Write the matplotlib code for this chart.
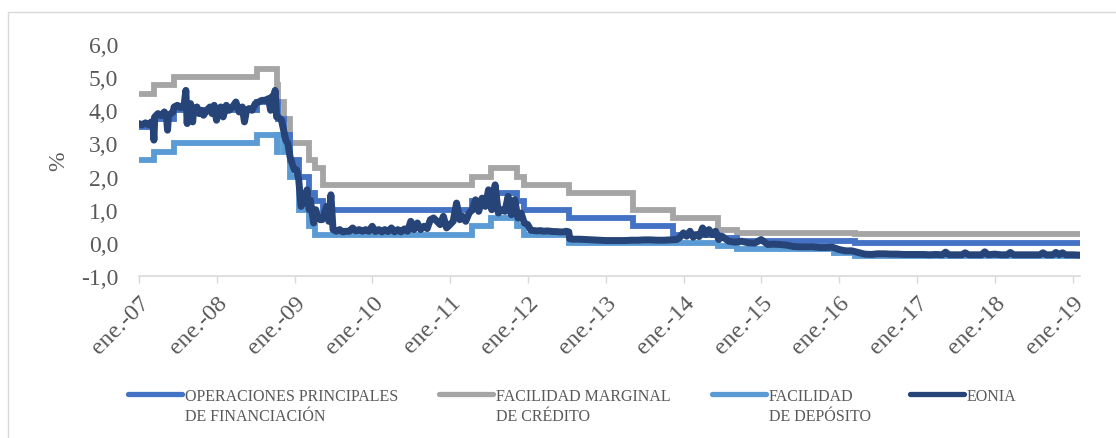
import matplotlib
matplotlib.use("Agg")
import matplotlib.pyplot as plt
from matplotlib.lines import Line2D
from matplotlib.patches import Rectangle
import pandas as pd

# ---------------- DATA ----------------
# Official ECB rates (step changes): effective date -> rate
mro_dates = ["2007-01-01", "2007-03-14", "2007-06-13", "2008-07-09", "2008-10-15", "2008-11-12",
             "2008-12-10", "2009-01-21", "2009-03-11", "2009-04-08", "2009-05-13", "2011-04-13",
             "2011-07-13", "2011-11-09", "2011-12-14", "2012-07-11", "2013-05-08", "2013-11-13",
             "2014-06-11", "2014-09-10", "2016-03-16", "2019-02-05"]
mro_values = [3.50, 3.75, 4.00, 4.25, 3.75, 3.25, 2.50, 2.00, 1.50, 1.25, 1.00, 1.25,
              1.50, 1.25, 1.00, 0.75, 0.50, 0.25, 0.15, 0.05, 0.00, 0.00]

mlf_dates = ["2007-01-01", "2007-03-14", "2007-06-13", "2008-07-09", "2008-10-09", "2008-10-15",
             "2008-11-12", "2008-12-10", "2009-03-11", "2009-04-08", "2009-05-13", "2011-04-13",
             "2011-07-13", "2011-11-09", "2011-12-14", "2012-07-11", "2013-05-08", "2013-11-13",
             "2014-06-11", "2014-09-10", "2016-03-16", "2019-02-05"]
mlf_values = [4.50, 4.75, 5.00, 5.25, 4.75, 4.25, 3.75, 3.00, 2.50, 2.25, 1.75, 2.00,
              2.25, 2.00, 1.75, 1.50, 1.00, 0.75, 0.40, 0.30, 0.28, 0.28]

df_dates = ["2007-01-01", "2007-03-14", "2007-06-13", "2008-07-09", "2008-10-09", "2008-10-15",
            "2008-11-12", "2008-12-10", "2009-01-21", "2009-03-11", "2009-04-08", "2011-04-13",
            "2011-07-13", "2011-11-09", "2011-12-14", "2012-07-11", "2014-06-11", "2014-09-10",
            "2015-12-09", "2016-03-16", "2019-02-05"]
df_values = [2.50, 2.75, 3.00, 3.25, 2.75, 3.25, 2.75, 2.00, 1.00, 0.50, 0.25, 0.50,
             0.75, 0.50, 0.25, 0.00, -0.10, -0.20, -0.30, -0.40, -0.40]

# EONIA
eonia_dates = [
    "2007-01-01", "2007-01-15", "2007-01-31", "2007-02-15", "2007-02-28", "2007-03-08", "2007-03-12",
    "2007-03-16", "2007-03-31", "2007-04-15", "2007-04-30", "2007-05-10", "2007-05-15", "2007-05-20",
    "2007-05-31", "2007-06-10", "2007-06-15", "2007-06-30", "2007-07-15", "2007-07-31", "2007-08-09",
    "2007-08-15", "2007-08-20", "2007-08-31", "2007-09-10", "2007-09-15", "2007-09-30", "2007-10-10",
    "2007-10-20", "2007-10-31", "2007-11-15", "2007-11-30", "2007-12-10", "2007-12-20", "2007-12-31",
    "2008-01-10", "2008-01-20", "2008-01-31", "2008-02-15", "2008-02-28", "2008-03-15", "2008-03-31",
    "2008-04-15", "2008-04-30", "2008-05-10", "2008-05-20", "2008-05-31", "2008-06-15", "2008-06-30",
    "2008-07-15", "2008-07-31", "2008-08-15", "2008-08-31", "2008-09-10", "2008-09-15", "2008-09-30",
    "2008-10-01", "2008-10-08", "2008-10-15", "2008-10-31", "2008-11-10", "2008-11-20", "2008-11-30",
    "2008-12-10", "2008-12-20", "2008-12-31",
    "2009-01-10", "2009-01-20", "2009-01-31", "2009-02-10", "2009-02-15", "2009-02-28", "2009-03-10",
    "2009-03-15", "2009-03-31", "2009-04-10", "2009-04-20", "2009-04-30", "2009-05-10", "2009-05-31",
    "2009-06-10", "2009-06-20", "2009-06-30", "2009-07-15", "2009-07-31", "2009-08-15", "2009-08-31",
    "2009-09-15", "2009-09-30", "2009-10-15", "2009-10-31", "2009-11-15", "2009-11-30", "2009-12-15",
    "2009-12-31",
    "2010-01-15", "2010-01-31", "2010-02-15", "2010-02-28", "2010-03-15", "2010-03-31", "2010-04-15",
    "2010-04-30", "2010-05-15", "2010-05-31", "2010-06-15", "2010-06-30", "2010-07-15", "2010-07-31",
    "2010-08-15", "2010-08-31", "2010-09-15", "2010-09-30", "2010-10-15", "2010-10-31", "2010-11-15",
    "2010-11-30", "2010-12-15", "2010-12-31",
    "2011-01-15", "2011-01-31", "2011-02-15", "2011-02-28", "2011-03-15", "2011-03-31", "2011-04-15",
    "2011-04-30", "2011-05-15", "2011-05-31", "2011-06-15", "2011-06-30", "2011-07-15", "2011-07-31",
    "2011-08-15", "2011-08-31", "2011-09-15", "2011-09-30", "2011-10-15", "2011-10-31", "2011-11-15",
    "2011-11-30", "2011-12-15", "2011-12-31",
    "2012-01-15", "2012-01-31", "2012-02-15", "2012-02-28", "2012-03-15", "2012-03-31", "2012-04-15",
    "2012-04-30", "2012-05-15", "2012-05-31", "2012-06-15", "2012-06-30", "2012-07-11", "2012-07-15",
    "2012-07-31", "2012-08-31", "2012-09-30", "2012-10-31", "2012-11-30", "2012-12-31",
    "2013-01-31", "2013-02-28", "2013-03-31", "2013-04-30", "2013-05-31", "2013-06-30", "2013-07-31",
    "2013-08-31", "2013-09-30", "2013-10-31", "2013-11-30", "2013-12-15", "2013-12-31",
    "2014-01-15", "2014-01-31", "2014-02-15", "2014-02-28", "2014-03-15", "2014-03-31", "2014-04-15",
    "2014-04-30", "2014-05-15", "2014-05-31", "2014-06-15", "2014-06-30", "2014-07-31", "2014-08-31",
    "2014-09-30", "2014-10-31", "2014-11-30", "2014-12-31",
    "2015-01-31", "2015-02-28", "2015-03-31", "2015-04-30", "2015-05-31", "2015-06-30", "2015-07-31",
    "2015-08-31", "2015-09-30", "2015-10-31", "2015-11-30", "2015-12-31",
    "2016-01-31", "2016-02-29", "2016-03-31", "2016-04-30", "2016-05-31", "2016-06-30", "2016-07-31",
    "2016-08-31", "2016-09-30", "2016-10-31", "2016-11-30", "2016-12-31",
    "2017-01-31", "2017-02-28", "2017-03-31", "2017-04-30", "2017-05-15", "2017-05-31", "2017-06-30",
    "2017-07-31", "2017-08-15", "2017-08-31", "2017-09-30", "2017-10-31", "2017-11-15", "2017-11-30",
    "2017-12-31",
    "2018-01-31", "2018-02-28", "2018-03-15", "2018-03-31", "2018-04-30", "2018-05-31", "2018-06-30",
    "2018-07-31", "2018-08-15", "2018-08-31", "2018-09-30", "2018-10-15", "2018-10-31", "2018-11-15",
    "2018-11-30", "2018-12-31",
    "2019-01-31", "2019-02-05"]
eonia_values = [
    3.60, 3.56, 3.62, 3.56, 3.65, 3.55, 3.10,
    3.80, 3.90, 3.84, 3.95, 3.80, 3.40, 3.85,
    3.90, 3.95, 4.10, 4.15, 4.08, 4.12, 4.60,
    3.60, 4.10, 4.20, 3.65, 4.05, 4.10, 3.90,
    4.00, 3.85, 4.00, 4.10, 3.90, 4.15, 3.70,
    4.05, 4.10, 3.80, 4.15, 4.00, 4.10, 4.25,
    3.95, 4.10, 3.65, 4.00, 4.05, 4.00, 4.20,
    4.25, 4.30, 4.30, 4.35, 4.00, 4.40, 4.50,
    4.60, 3.80, 3.80, 3.70, 3.40, 3.10, 3.00,
    2.60, 2.40, 2.20,
    2.20, 1.90, 1.10, 1.30, 1.20, 1.60, 1.00,
    1.30, 0.60, 1.00, 0.75, 0.70, 0.70, 1.10,
    0.65, 1.45, 0.40, 0.35, 0.40, 0.33, 0.35,
    0.35, 0.45, 0.36, 0.40, 0.35, 0.40, 0.35,
    0.50,
    0.34, 0.40, 0.33, 0.40, 0.34, 0.45, 0.33,
    0.40, 0.33, 0.42, 0.35, 0.65, 0.40, 0.60,
    0.40, 0.50, 0.43, 0.70, 0.75, 0.65, 0.55,
    0.80, 0.45, 0.55,
    0.65, 1.20, 0.70, 0.80, 0.65, 0.90, 1.00,
    1.30, 0.95, 1.35, 1.10, 1.60, 1.00, 1.75,
    0.90, 1.00, 0.95, 1.40, 0.85, 1.30, 0.75,
    0.90, 0.60, 0.55,
    0.38, 0.37, 0.36, 0.37, 0.35, 0.36, 0.35,
    0.34, 0.34, 0.33, 0.33, 0.35, 0.33, 0.12,
    0.11, 0.11, 0.10, 0.09, 0.08, 0.07,
    0.07, 0.07, 0.07, 0.08, 0.08, 0.09, 0.09,
    0.08, 0.08, 0.09, 0.10, 0.17, 0.30,
    0.20, 0.35, 0.17, 0.25, 0.19, 0.45, 0.25,
    0.40, 0.25, 0.35, 0.10, 0.20, 0.05, 0.02,
    0.05, 0.00, -0.01, 0.10,
    -0.05, -0.04, -0.05, -0.07, -0.11, -0.12, -0.12,
    -0.12, -0.14, -0.14, -0.13, -0.20,
    -0.24, -0.24, -0.29, -0.34, -0.35, -0.33, -0.33,
    -0.34, -0.34, -0.35, -0.35, -0.35,
    -0.35, -0.36, -0.35, -0.36, -0.28, -0.36, -0.36,
    -0.36, -0.30, -0.36, -0.36, -0.36, -0.27, -0.36,
    -0.34,
    -0.36, -0.36, -0.29, -0.36, -0.36, -0.36, -0.36,
    -0.36, -0.30, -0.36, -0.36, -0.29, -0.36, -0.30,
    -0.36, -0.36,
    -0.37, -0.37]

series_labels = ["OPERACIONES PRINCIPALES\nDE FINANCIACIÓN", "FACILIDAD MARGINAL\nDE CRÉDITO",
                 "FACILIDAD\nDE DEPÓSITO", "EONIA"]
series_colors = ["#4472C4", "#A5A5A5", "#5B9BD5", "#264478"]
y_ticks = [-1.0, 0.0, 1.0, 2.0, 3.0, 4.0, 5.0, 6.0]
y_label = "%"

# ---------------- PLOT ----------------
W, H = 1116, 439
fig = plt.figure(figsize=(W / 100, H / 100), dpi=100)
plt.rcParams["font.family"] = ["Liberation Serif", "DejaVu Serif"]
txt = "#595959"

# chart border
fig.add_artist(Rectangle((8 / W, -0.05), 1.2, 1 - 13 / H + 0.05, transform=fig.transFigure,
                         fill=False, edgecolor="#D9D9D9", linewidth=1.0))

ax = fig.add_axes([139 / W, 1 - 277 / H, (1080 - 139) / W, (277 - 45) / H])

lw = 4.2
ax.step(pd.to_datetime(mlf_dates), mlf_values, where="post", color=series_colors[1], lw=lw,
        solid_joinstyle="miter", zorder=2)
ax.step(pd.to_datetime(df_dates), df_values, where="post", color=series_colors[2], lw=lw,
        solid_joinstyle="miter", zorder=3)
ax.step(pd.to_datetime(mro_dates), mro_values, where="post", color=series_colors[0], lw=lw,
        solid_joinstyle="miter", zorder=4)
ax.plot(pd.to_datetime(eonia_dates), eonia_values, color=series_colors[3], lw=lw + 0.8,
        solid_joinstyle="round", solid_capstyle="round", zorder=5)

ax.set_ylim(-1, 6)
ax.set_yticks(y_ticks)
ax.set_yticklabels([f"{v:.1f}".replace(".", ",") for v in y_ticks], fontsize=17, color=txt)
ax.set_xlim(pd.Timestamp("2007-01-01"), pd.Timestamp("2019-02-05"))
years = list(range(2007, 2020))
ax.set_xticks([pd.Timestamp(f"{y}-01-01") for y in years])
ax.set_xticklabels([f"ene.-{y % 100:02d}" for y in years], rotation=45, ha="right", va="top",
                   rotation_mode="anchor", fontsize=17.5, color=txt)
ax.tick_params(axis="x", length=5, color="#D9D9D9", width=1, pad=6)
ax.tick_params(axis="y", length=0, pad=15)
for s in ["top", "right", "left"]:
    ax.spines[s].set_visible(False)
ax.spines["bottom"].set_color("#D9D9D9")
ax.spines["bottom"].set_linewidth(1.2)
ax.set_ylabel(y_label, fontsize=17, color=txt, labelpad=8)

# legend (manual layout)
hx = [128, 439, 712, 910]
hy = 395
for x0, lab, col in zip(hx, series_labels, series_colors):
    fig.add_artist(Line2D([x0 / W, (x0 + 54) / W], [1 - hy / H, 1 - hy / H], transform=fig.transFigure,
                          color=col, lw=3.8, solid_capstyle="round"))
    fig.text((x0 + 57) / W, 1 - (hy - 6) / H, lab, ha="left", va="top", fontsize=11.5, color=txt,
             linespacing=1.3)

fig.savefig("out.png", dpi=100)
